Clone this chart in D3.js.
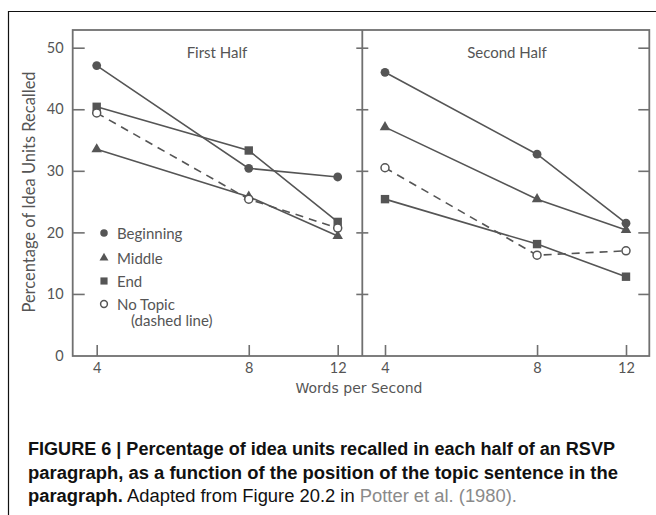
<!DOCTYPE html>
<html>
<head>
<meta charset="utf-8">
<script src="https://cdn.jsdelivr.net/npm/d3@7"></script>
<style>
  body { margin: 0; background: #fff; }
  svg { display: block; }
</style>
</head>
<body>
<svg id="chart" width="656" height="515"></svg>
<script>
// ---- data ----
let speeds = [4, 8, 12];
let yTicks = [0, 10, 20, 30, 40, 50];
let panelTitles = ['First Half', 'Second Half'];
let seriesNames = ['Beginning', 'Middle', 'End', 'No Topic'];

let beginningFirst = [47.1, 30.4, 29.0];
let middleFirst = [33.5, 25.8, 19.4];
let endFirst = [40.4, 33.3, 21.7];
let noTopicFirst = [39.4, 25.4, 20.7];

let beginningSecond = [46.0, 32.7, 21.5];
let middleSecond = [37.1, 25.4, 20.4];
let endSecond = [25.4, 18.1, 12.8];
let noTopicSecond = [30.5, 16.3, 17.0];

let panels = [
  [beginningFirst, middleFirst, endFirst, noTopicFirst],
  [beginningSecond, middleSecond, endSecond, noTopicSecond]
];

// ---- layout ----
let ink = '#555';
let frameColor = '#707070';
let tickFont = 'Lato, "Open Sans", sans-serif';

let frameLeft = 72.7, frameMid = 362.3, frameRight = 649.3;
let frameTop = 30, frameBottom = 356;

let svg = d3.select('#chart');

// outer box (top + left edge visible)
svg.append('path')
  .attr('d', 'M8.5,515 V11.5 H656')
  .attr('fill', 'none')
  .attr('stroke', '#111')
  .attr('stroke-width', 1.2);

let y = d3.scaleLinear().domain([0, 50]).range([355.5, 47.7]);

let xScales = [
  d3.scaleLog().domain([4, 12]).range([96.7, 337.7]),
  d3.scaleLog().domain([4, 12]).range([385, 626])
];

// frame
svg.append('rect')
  .attr('x', frameLeft).attr('y', frameTop)
  .attr('width', frameRight - frameLeft)
  .attr('height', frameBottom - frameTop)
  .attr('fill', 'none')
  .attr('stroke', frameColor)
  .attr('stroke-width', 1.8);

svg.append('line')
  .attr('x1', frameMid).attr('x2', frameMid)
  .attr('y1', frameTop).attr('y2', frameBottom)
  .attr('stroke', frameColor)
  .attr('stroke-width', 1.8);

// y axis ticks, labels drawn by d3.axisLeft
let yAxis = svg.append('g')
  .attr('transform', 'translate(' + frameLeft + ',0)')
  .call(d3.axisLeft(y).tickValues(yTicks).tickSize(-12).tickPadding(9));
yAxis.select('.domain').remove();

let yTickMarks = [
  { x: frameMid, size: 6, side: -1 },
  { x: frameMid, size: 6, side: 1 },
  { x: frameRight, size: 11, side: -1 }
];
yTickMarks.forEach(function (t) {
  let ax = t.side < 0 ? d3.axisLeft(y).tickSize(t.size) : d3.axisRight(y).tickSize(t.size);
  let g = svg.append('g')
    .attr('transform', 'translate(' + t.x + ',0)')
    .call(ax.tickValues(yTicks.slice(1)).tickFormat(''));
  g.select('.domain').remove();
});

svg.selectAll('.tick line')
  .attr('stroke', frameColor)
  .attr('stroke-width', 1.6);

yAxis.selectAll('.tick text')
  .attr('fill', ink)
  .style('font-family', tickFont)
  .style('font-size', '14.5px');
yAxis.selectAll('.tick')
  .filter(function (d) { return d === 0; })
  .select('line').remove();

// x axis per panel
xScales.forEach(function (x) {
  let g = svg.append('g')
    .attr('transform', 'translate(0,' + frameBottom + ')')
    .call(d3.axisBottom(x).tickValues(speeds).tickFormat(d3.format('d')).tickSize(-11).tickPadding(7));
  g.select('.domain').remove();
  g.selectAll('.tick line')
    .attr('stroke', frameColor)
    .attr('stroke-width', 1.6);
  g.selectAll('.tick text')
    .attr('fill', ink)
    .style('font-family', tickFont)
    .style('font-size', '14.5px');
});

// axis titles
svg.append('text')
  .attr('transform', 'translate(35,192) rotate(-90)')
  .attr('text-anchor', 'middle')
  .attr('fill', ink)
  .style('font-family', tickFont)
  .style('font-size', '16.5px')
  .text('Percentage of Idea Units Recalled');

svg.append('text')
  .attr('x', 359).attr('y', 393)
  .attr('text-anchor', 'middle')
  .attr('fill', ink)
  .style('font-family', '"DejaVu Sans", Verdana, sans-serif')
  .style('font-size', '14px')
  .text('Words per Second');

// panel titles
panelTitles.forEach(function (t, i) {
  svg.append('text')
    .attr('x', i === 0 ? 217 : 507)
    .attr('y', 58)
    .attr('text-anchor', 'middle')
    .attr('fill', ink)
    .style('font-family', tickFont)
    .style('font-size', '15px')
    .text(t);
});

// markers
function drawMarker(g, kind, cx, cy, s) {
  if (kind === 0) {
    g.append('circle').attr('cx', cx).attr('cy', cy).attr('r', 4.4 * s).attr('fill', ink);
  } else if (kind === 1) {
    g.append('path')
      .attr('d', d3.symbol().type(d3.symbolTriangle).size(48 * s * s)())
      .attr('transform', 'translate(' + cx + ',' + cy + ')')
      .attr('fill', ink);
  } else if (kind === 2) {
    let h = 4.2 * s;
    g.append('rect').attr('x', cx - h).attr('y', cy - h)
      .attr('width', 2 * h).attr('height', 2 * h).attr('fill', ink);
  } else {
    g.append('circle').attr('cx', cx).attr('cy', cy).attr('r', 4 * s)
      .attr('fill', '#fff').attr('stroke', ink).attr('stroke-width', 1.5);
  }
}

let line = d3.line();

panels.forEach(function (series, p) {
  let x = xScales[p];
  let g = svg.append('g');
  series.forEach(function (vals, k) {
    g.append('path')
      .attr('d', line(vals.map(function (v, i) { return [x(speeds[i]), y(v)]; })))
      .attr('fill', 'none')
      .attr('stroke', ink)
      .attr('stroke-width', 1.6)
      .attr('stroke-dasharray', k === 3 ? '8,6' : null);
  });
  series.forEach(function (vals, k) {
    vals.forEach(function (v, i) {
      drawMarker(g, k, x(speeds[i]), y(v), 1);
    });
  });
});

// legend
let legendY = [234, 259, 282, 305];
let legend = svg.append('g');
seriesNames.forEach(function (name, k) {
  drawMarker(legend, k, 104, legendY[k] - 1, 0.85);
  legend.append('text')
    .attr('x', 117).attr('y', legendY[k] + 5)
    .attr('fill', ink)
    .style('font-family', tickFont)
    .style('font-size', '15px')
    .text(name);
});
legend.append('text')
  .attr('x', 131).attr('y', 326)
  .attr('fill', ink)
  .style('font-family', tickFont)
  .style('font-size', '15px')
  .text('(dashed line)');

// caption, squeezed to the narrow face of the original
let caption = svg.append('g')
  .style('font-family', '"Liberation Sans", Arial, sans-serif')
  .style('font-size', '18px')
  .attr('fill', '#111');

caption.append('text')
  .attr('x', 28).attr('y', 455)
  .attr('textLength', 587)
  .attr('lengthAdjust', 'spacingAndGlyphs')
  .style('font-weight', 'bold')
  .text('FIGURE 6 | Percentage of idea units recalled in each half of an RSVP');

caption.append('text')
  .attr('x', 28).attr('y', 479)
  .attr('textLength', 590)
  .attr('lengthAdjust', 'spacingAndGlyphs')
  .style('font-weight', 'bold')
  .text('paragraph, as a function of the position of the topic sentence in the');

let last = caption.append('text').attr('x', 28).attr('y', 502)
  .attr('textLength', 489)
  .attr('lengthAdjust', 'spacingAndGlyphs');
last.append('tspan').style('font-weight', 'bold').text('paragraph.');
last.append('tspan').text(' Adapted from Figure 20.2 in ');
last.append('tspan').attr('fill', '#8a8a8a').text('Potter et al. (1980).');
</script>
</body>
</html>
